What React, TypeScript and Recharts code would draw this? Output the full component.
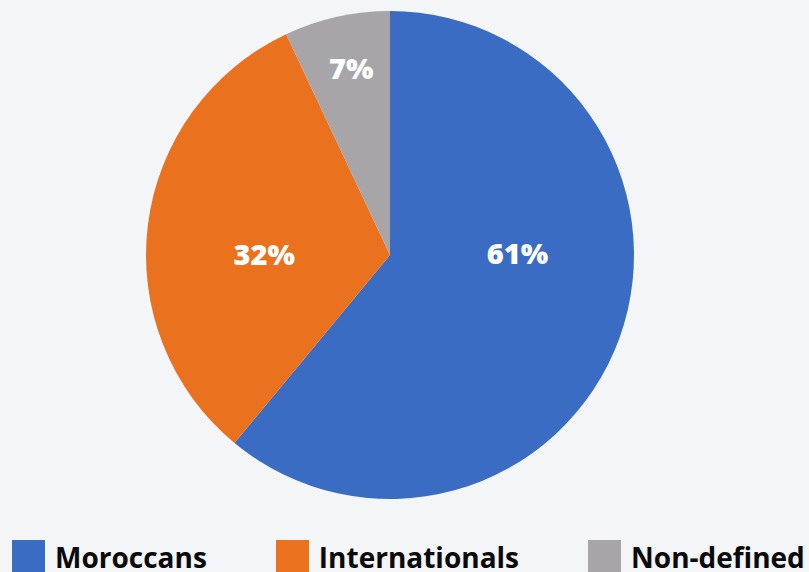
import React from "react";
import { PieChart, Pie, Cell, Legend } from "recharts";

const categories = ["Moroccans", "Internationals", "Non-defined"];
const shares = [61, 32, 7];
const colors = ["#3b6cc4", "#ea721f", "#a7a5a8"];

// label anchor: polar angle (deg, ccw from east) and radius fraction
const labelPlacement = [
  { angle: 0.9, r: 0.523 },
  { angle: 179.1, r: 0.515 },
  { angle: 101.7, r: 0.785 },
];

const data = categories.map((name, i) => ({ name, value: shares[i] }));

const FONT = "'Open Sans', 'DejaVu Sans', sans-serif";

const renderLabel = (props: any) => {
  const { cx, cy, outerRadius, index, value } = props;
  const p = labelPlacement[index];
  const rad = (p.angle * Math.PI) / 180;
  const x = cx + outerRadius * p.r * Math.cos(rad);
  const y = cy - outerRadius * p.r * Math.sin(rad);
  return (
    <text
      x={x}
      y={y}
      fill="#ffffff"
      textAnchor="middle"
      dominantBaseline="central"
      style={{ fontFamily: FONT, fontWeight: 800, fontSize: 29 }}
    >
      {value}%
    </text>
  );
};

const renderLegend = () => {
  return (
    <div style={{ display: "flex", gap: 69, paddingLeft: 12 }}>
      {categories.map((name, i) => (
        <div key={name} style={{ display: "flex", alignItems: "flex-start" }}>
          <div style={{ width: 33, height: 33, background: colors[i], marginRight: 10 }} />
          <span
            style={{
              fontFamily: FONT,
              fontWeight: 700,
              fontSize: 28,
              color: "#0a0a0a",
              lineHeight: "33px",
              marginTop: 1,
              whiteSpace: "nowrap",
            }}
          >
            {name}
          </span>
        </div>
      ))}
    </div>
  );
};

export default function App() {
  return (
    <div style={{ position: "fixed", left: 0, top: 0, width: 809, height: 572, background: "#f4f5f7", overflow: "hidden" }}>
      <PieChart width={809} height={572} margin={{ top: 0, right: 0, bottom: 0, left: 0 }}>
        <Pie
          data={data}
          dataKey="value"
          nameKey="name"
          cx={390}
          cy={255}
          outerRadius={244}
          startAngle={90}
          endAngle={-270}
          stroke="none"
          label={renderLabel}
          labelLine={false}
          isAnimationActive={false}
        >
          {data.map((d, i) => (
            <Cell key={d.name} fill={colors[i]} />
          ))}
        </Pie>
        <Legend
          content={renderLegend}
          wrapperStyle={{ position: "absolute", left: 0, top: 540, width: 809 }}
        />
      </PieChart>
    </div>
  );
}
